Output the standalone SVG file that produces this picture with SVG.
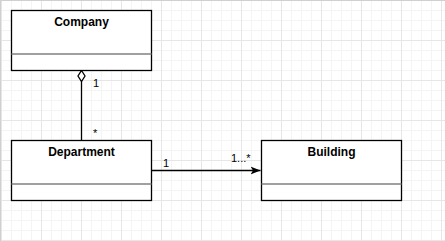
<svg xmlns="http://www.w3.org/2000/svg" width="445" height="241" viewBox="0 0 445 241">
  <defs>
    <pattern id="grid" patternUnits="userSpaceOnUse" x="1" y="0" width="40" height="40">
      <rect width="40" height="40" fill="#ffffff"/>
      <path d="M10.5 0V40M20.5 0V40M30.5 0V40M0 10.5H40M0 20.5H40M0 30.5H40" stroke="#f4f4f4" stroke-width="1"/>
      <path d="M0.5 0V40M0 0.5H40" stroke="#e6e6e6" stroke-width="1"/>
    </pattern>
    <marker id="arrow" viewBox="0 0 10 10" refX="10" refY="5" markerWidth="10" markerHeight="10" markerUnits="userSpaceOnUse" orient="auto">
      <path d="M0 1 L10 5 L0 9 L2.5 5 Z" fill="#000"/>
    </marker>
  </defs>
  <style>
    .box { fill: #ffffff; stroke: #000000; stroke-width: 1.3; }
    .sep { stroke: #808080; stroke-width: 1.3; }
    .title { font-family: "Liberation Sans", Arial, sans-serif; font-size: 12px; font-weight: bold; text-anchor: middle; fill: #000; }
    .lbl { font-family: "Liberation Sans", Arial, sans-serif; font-size: 11px; fill: #000; }
    .edge { fill: none; stroke: #000; stroke-width: 1.3; }
  </style>

  <!-- background grid -->
  <rect width="445" height="241" fill="url(#grid)"/>
  <path d="M0 0.5H445M0.5 0V241" stroke="#d0d0d0" stroke-width="1"/>

  <!-- connectors -->
  <g id="connectors">
    <path class="edge" d="M81.5 81.5V140.5"/>
    <path d="M81.5 70.5L85 76L81.5 81.5L78 76Z" fill="#fff" stroke="#000" stroke-width="1.3"/>
    <text class="lbl" x="93" y="87">1</text>
    <text class="lbl" x="93" y="137">*</text>
    <path class="edge" d="M151.5 170.5H260.5" marker-end="url(#arrow)"/>
    <text class="lbl" x="163" y="167">1</text>
    <text class="lbl" x="231" y="162">1...*</text>
  </g>

  <g id="company">
    <rect class="box" x="11.5" y="10.5" width="140" height="60"/>
    <line class="sep" x1="11.5" y1="54" x2="151.5" y2="54"/>
    <text class="title" x="81.5" y="26">Company</text>
  </g>

  <g id="department">
    <rect class="box" x="11.5" y="140.5" width="140" height="60"/>
    <line class="sep" x1="11.5" y1="184" x2="151.5" y2="184"/>
    <text class="title" x="81.5" y="156">Department</text>
  </g>

  <g id="building">
    <rect class="box" x="261.5" y="140.5" width="140" height="60"/>
    <line class="sep" x1="261.5" y1="184" x2="401.5" y2="184"/>
    <text class="title" x="331.5" y="156">Building</text>
  </g>
</svg>
